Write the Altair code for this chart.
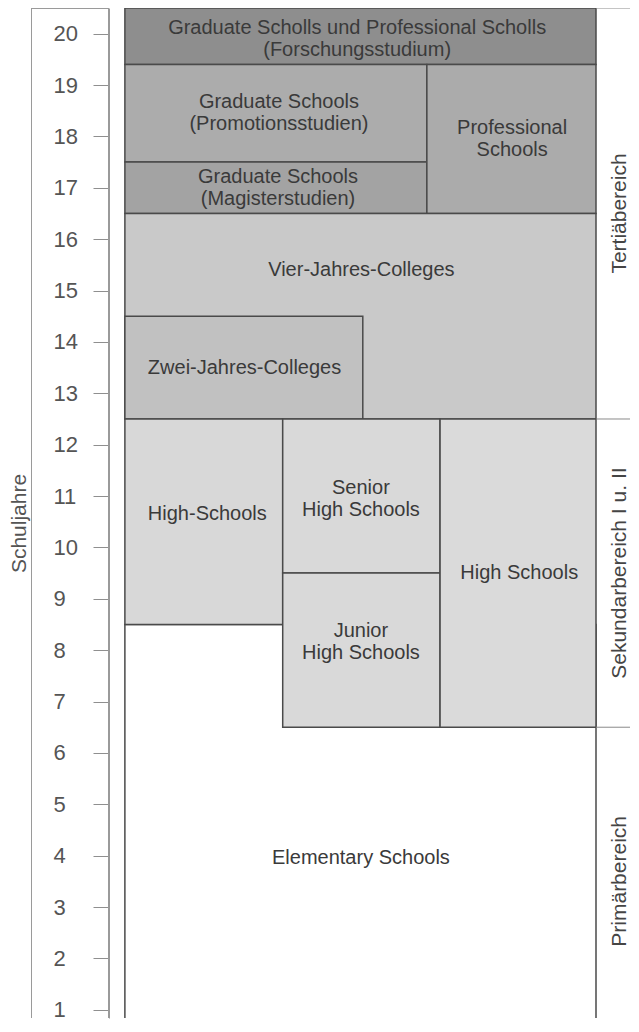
import altair as alt
import pandas as pd

# ---- data ----
labels = [
    "Elementary Schools",
    "Graduate Scholls und Professional Scholls\n(Forschungsstudium)",
    "Graduate Schools\n(Promotionsstudien)",
    "Graduate Schools\n(Magisterstudien)",
    "Professional\nSchools",
    "Vier-Jahres-Colleges",
    "Zwei-Jahres-Colleges",
    "High-Schools",
    "Senior\nHigh Schools",
    "Junior\nHigh Schools",
    "High Schools",
]
x_start = [0.0, 0.0, 0.0, 0.0, 0.641, 0.0, 0.0, 0.0, 0.335, 0.335, 0.669]
x_end = [1.0, 1.0, 0.641, 0.641, 1.0, 1.0, 0.505, 0.335, 0.669, 0.669, 1.0]
y_start = [0.5, 19.4, 17.5, 16.5, 16.5, 12.5, 12.5, 8.5, 9.5, 6.5, 6.5]
y_end = [8.5, 20.5, 19.4, 17.5, 19.4, 16.5, 14.5, 12.5, 12.5, 9.5, 12.5]
fills = ["#ffffff", "#8e8e8e", "#acacac", "#a3a3a3", "#ababab", "#c9c9c9",
         "#c1c1c1", "#d8d8d8", "#d9d9d9", "#d9d9d9", "#dadada"]
label_x = [0.501, 0.493, 0.327, 0.325, 0.822, 0.502, 0.254, 0.175, 0.501, 0.501, 0.837]
label_y = [3.95, 19.89, 18.45, 17.0, 17.95, 15.4, 13.5, 10.65, 10.95, 8.15, 9.5]

regions = ["Tertiäbereich", "Sekundarbereich I u. II", "Primärbereich"]
region_top = [20.5, 12.5, 6.5]
region_mid = [16.5, 9.5, 3.5]

years = list(range(1, 21))

blocks = pd.DataFrame({
    "label": labels, "x0": x_start, "x1": x_end, "y0": y_start, "y1": y_end,
    "fill": fills, "lx": label_x, "ly": label_y,
})
blocks["multi"] = blocks["label"].str.contains("\n")
reg = pd.DataFrame({"region": regions, "top": region_top, "mid": region_mid})
axis_df = pd.DataFrame({"jahr": years})

H = 1010
yscale = alt.Scale(domain=[0.84, 20.5], nice=False, zero=False)
xscale = alt.Scale(domain=[-0.004, 1.0743], nice=False, zero=False)
W = 508

# left panel: framed year axis
frame = alt.Chart(axis_df).mark_rect(
    fill="transparent", stroke="#9a9a9a", strokeWidth=2, clip=True
).encode(y=alt.Y(datum=0.5, scale=yscale,
                 axis=alt.Axis(values=years, title="Schuljahre", orient="left",
                               offset=-78, tickSize=16, tickColor="#8f8f8f",
                               domainColor="#9a9a9a", labelAlign="left",
                               labelPadding=40, labelFontSize=22, labelColor="#555555",
                               titleFontSize=21, titleFontWeight="normal",
                               titleColor="#555555", titlePadding=24, titleY=515,
                               grid=False)),
         y2=alt.Y2(datum=20.5))
left = frame.properties(width=78, height=H)

elem = alt.Chart(blocks[blocks["label"] == "Elementary Schools"]).mark_rect(
    stroke="#4a4a4a", strokeWidth=1.5, clip=True
).encode(
    x=alt.X("x0:Q", scale=xscale, axis=None), x2="x1:Q",
    y=alt.Y("y0:Q", scale=yscale, axis=None), y2="y1:Q",
    color=alt.Color("fill:N", scale=None),
)
rects = alt.Chart(blocks[blocks["label"] != "Elementary Schools"]).mark_rect(
    stroke="#4a4a4a", strokeWidth=1.5
).encode(
    x=alt.X("x0:Q", scale=xscale, axis=None), x2="x1:Q",
    y=alt.Y("y0:Q", scale=yscale, axis=None), y2="y1:Q",
    color=alt.Color("fill:N", scale=None),
)
text_single = alt.Chart(blocks[~blocks["multi"]]).mark_text(
    fontSize=20, color="#3a3a3a", baseline="middle"
).encode(x=alt.X("lx:Q", scale=xscale), y=alt.Y("ly:Q", scale=yscale), text="label:N")
text_multi = alt.Chart(blocks[blocks["multi"]]).mark_text(
    fontSize=20, lineBreak="\n", lineHeight=22, dy=-11, color="#3a3a3a", baseline="middle"
).encode(x=alt.X("lx:Q", scale=xscale), y=alt.Y("ly:Q", scale=yscale), text="label:N")

seps = alt.Chart(reg).mark_rule(color="#8a8a8a", strokeWidth=1).encode(
    x=alt.X(datum=1.0, scale=xscale), x2=alt.X2(datum=1.0743),
    y=alt.Y("top:Q", scale=yscale),
)
reg_labels = alt.Chart(reg).mark_text(
    fontSize=21, angle=270, color="#454545", baseline="middle"
).encode(x=alt.X(datum=1.05, scale=xscale), y=alt.Y("mid:Q", scale=yscale), text="region:N")

main = alt.layer(elem, rects, text_single, text_multi, seps, reg_labels).properties(width=W, height=H)

chart = alt.hconcat(left, main, spacing=14, bounds="flush").properties(
    padding={"left": -1, "top": -2, "right": -2, "bottom": 0}
).configure(font="Liberation Sans").configure_view(stroke="transparent")

chart.save("out.html", embed_options={"renderer": "svg", "actions": False})
